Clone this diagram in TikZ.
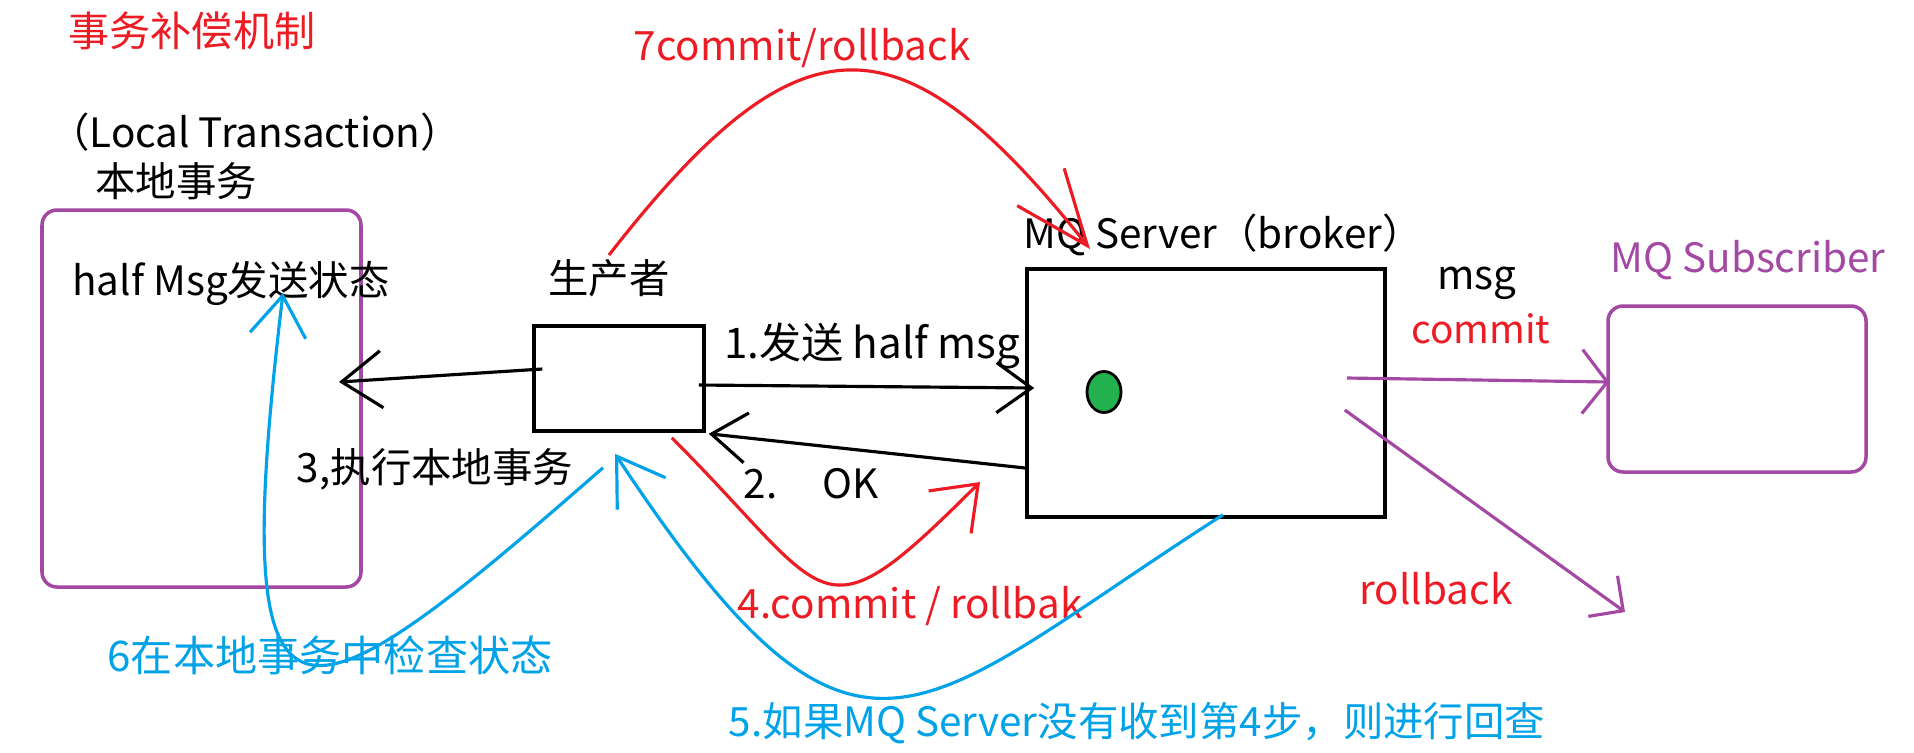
\documentclass[tikz,border=0pt]{standalone}
\usepackage{fontspec}
\setmainfont{Noto Sans CJK SC}
\usetikzlibrary{arrows.meta,positioning,shapes.geometric}
\definecolor{mqred}{RGB}{237,28,36}
\definecolor{mqpurple}{RGB}{163,73,164}
\definecolor{mqblue}{RGB}{0,162,232}
\definecolor{mqgreen}{RGB}{34,177,76}

\begin{document}
\begin{tikzpicture}[
  txt/.style={inner sep=1pt, font=\fontsize{11.5}{13}\selectfont},
  blackbox/.style={draw=black, line width=1pt, inner sep=0pt},
  roundbox/.style={draw=mqpurple, line width=1pt, rounded corners=1.5mm, inner sep=0pt},
  link/.style={line width=0.9pt},
  tip/.style={-{Straight Barb[#1]}}
]
  \useasboundingbox[fill=white] (0,0) rectangle (19.14,7.52);

  \node[txt, text=mqred, font=\fontsize{11.7}{14}\selectfont] (title) at (1.92,7.21) {事务补偿机制};
  \node[txt] (localtx) at (2.55,6.20) {（Local Transaction）};
  \node[txt] (localcn) at (1.76,5.71) {本地事务};
  \node[roundbox, minimum width=3.19cm, minimum height=3.77cm] (localbox) at (2.015,3.535) {};
  \node[txt] (halfmsg) at (2.31,4.69) {half Msg发送状态};

  \node[txt] (prodlabel) at (6.09,4.74) {生产者};
  \node[blackbox, minimum width=1.70cm, minimum height=1.05cm] (producer) at (6.19,3.735) {};
  \node[txt, font=\fontsize{12}{14}\selectfont] (sendlbl) at (8.72,4.06) {1.发送 half msg};
  \node[txt] (oklbl) at (8.11,2.68) {2.\hspace{4.5mm}OK};
  \node[txt] (execlbl) at (4.35,2.83) {3,执行本地事务};
  \node[txt, text=mqred] (rollbaklbl) at (9.10,1.46) {4.commit / rollbak};
  \node[txt, text=mqblue] (recheck) at (11.37,0.29) {5.如果MQ Server没有收到第4步，则进行回查};
  \node[txt, text=mqblue, font=\fontsize{12}{14}\selectfont] (checklbl) at (3.30,0.97) {6在本地事务中检查状态};
  \node[txt, text=mqred] (lbl7) at (8.02,7.04) {7commit/rollback};

  \node[txt] (mqlabel) at (12.23,5.17) {MQ Server（broker）};
  \node[blackbox, minimum width=3.58cm, minimum height=2.48cm] (mqbox) at (12.06,3.59) {};
  \node[ellipse, draw=black, fill=mqgreen, line width=0.8pt, minimum width=0.34cm, minimum height=0.41cm, inner sep=0pt] (dot) at (11.04,3.60) {};
  \node[txt] (msglbl) at (14.77,4.69) {msg};
  \node[txt, text=mqred, font=\fontsize{11}{13}\selectfont] (commitlbl) at (14.81,4.23) {commit};
  \node[txt, text=mqred] (rollbacklbl) at (14.36,1.63) {rollback};

  \node[txt, text=mqpurple] (sublabel) at (17.48,4.92) {MQ Subscriber};
  \node[roundbox, minimum width=2.58cm, minimum height=1.66cm] (subbox) at (17.37,3.63) {};

  \coordinate (lhit) at (3.39,3.70);
  \coordinate (hit7) at (10.90,5.03);
  \coordinate (hit4) at (9.80,2.70);
  \coordinate (hit6) at (2.83,4.59);
  \coordinate (hitrb) at (16.25,1.40);

  \draw[link, tip={length=3.5mm,width=5mm}] ([xshift=-0.07cm,yshift=-0.065cm]producer.east) -- ([xshift=0.09cm,yshift=0.05cm]mqbox.west);
  \draw[link, tip={length=3.5mm,width=5mm}] ([yshift=-0.75cm]mqbox.west) -- ([xshift=0.03cm,yshift=-0.01cm]producer.south east);
  \draw[link, tip={length=4mm,width=5.7mm}] ([xshift=0.10cm,yshift=0.095cm]producer.west) -- (lhit);

  \draw[link, mqred, tip={length=7.5mm,width=6mm}] (prodlabel.north) .. controls (8.00,7.42) and (9.00,7.42) .. (hit7);
  \draw[link, mqred, tip={length=4mm,width=6mm}] ([xshift=-0.34cm,yshift=-0.05cm]producer.south east) .. controls (8.34,1.52) and (8.16,1.06) .. (hit4);

  \draw[link, mqblue, tip={length=4.5mm,width=5.8mm}] ([xshift=0.17cm,yshift=0.04cm]mqbox.south) .. controls (9.13,0.39) and (8.60,-0.72) .. ([xshift=-0.04cm,yshift=-0.21cm]producer.south);
  \draw[link, mqblue, tip={length=4mm,width=5.6mm}] ([xshift=-0.16cm,yshift=-0.35cm]producer.south) .. controls (2.95,0.15) and (2.25,-0.25) .. (hit6);

  \draw[link, mqpurple, tip={length=2.5mm,width=6.4mm}] ([xshift=-0.40cm,yshift=0.15cm]mqbox.east) -- ([xshift=0.03cm,yshift=0.07cm]subbox.west);
  \draw[link, mqpurple, tip={length=2.5mm,width=5mm}] ([xshift=-0.42cm,yshift=-0.17cm]mqbox.east) -- (hitrb);
\end{tikzpicture}
\end{document}
